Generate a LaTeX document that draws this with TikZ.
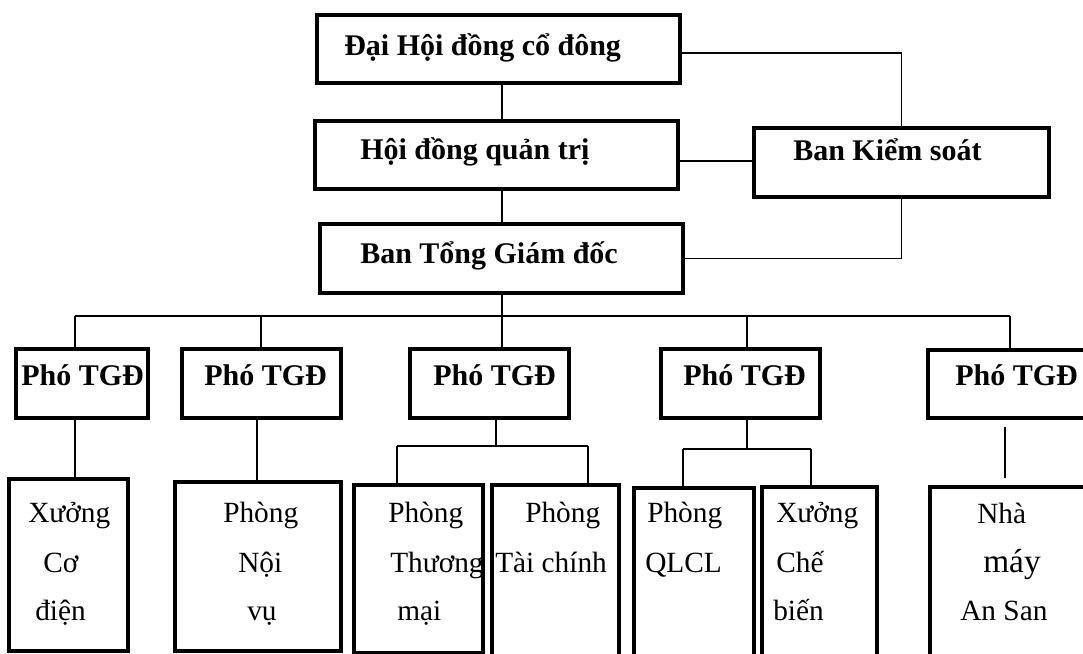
\documentclass[tikz,border=0pt]{standalone}
\usepackage{fontspec}
\setmainfont{Liberation Serif}
\usetikzlibrary{fit}
\begin{document}
\begin{tikzpicture}[x=0.75pt,y=-0.75pt,
  box/.style={draw, line width=2.4pt, inner sep=0pt},
  conn/.style={line width=1.1pt},
  btext/.style={font=\fontsize{22.5pt}{26pt}\selectfont\bfseries, anchor=base west, inner sep=0pt},
  rtext/.style={font=\fontsize{22pt}{26pt}\selectfont, anchor=base west, inner sep=0pt},
  bigtext/.style={font=\fontsize{25pt}{28pt}\selectfont, anchor=base west, inner sep=0pt}]
\useasboundingbox (0,0) rectangle (1083,654);
\clip (0,0) rectangle (1083,654);

% top boxes
\node[box, fit={(317,15) (680,83)}] (dh) {};
\node[box, fit={(315,121) (678,189)}] (hq) {};
\node[box, fit={(320,224) (683,293)}] (bg) {};
\node[box, fit={(754,128) (1049,197)}] (bks) {};

\node[btext] (dht) at (344,55) {Đại Hội đồng cổ đông};
\node[btext] (hqt) at (360,159) {Hội đồng quản trị};
\node[btext] (bgt) at (360,263) {Ban Tổng Giám đốc};
\node[btext] (bkst) at (793,160) {Ban Kiểm soát};

% Pho TGD boxes
\node[box, fit={(16,349) (148,418)}] (p1) {};
\node[box, fit={(182,349) (341,418)}] (p2) {};
\node[box, fit={(410,349) (569,418)}] (p3) {};
\node[box, fit={(661,349) (820,418)}] (p4) {};
\node[box, fit={(928,350) (1110,418)}] (p5) {};

\node[btext] (p1t) at (21,385) {Phó TGĐ};
\node[btext] (p2t) at (204,385) {Phó TGĐ};
\node[btext] (p3t) at (433,385) {Phó TGĐ};
\node[btext] (p4t) at (683,385) {Phó TGĐ};
\node[btext] (p5t) at (955,385) {Phó TGĐ};

% unit boxes
\node[box, fit={(9,479) (128,651)}] (u1) {};
\node[box, fit={(175,482) (341,651)}] (u2) {};
\node[box, fit={(354,485) (483,653)}] (u3) {};
\node[box, fit={(492,485) (619,680)}] (u4) {};
\node[box, fit={(634,488) (754,680)}] (u5) {};
\node[box, fit={(762,487) (877,680)}] (u6) {};
\node[box, fit={(930,487) (1110,680)}] (u7) {};

\node[rtext] (u1a) at (28,522) {Xưởng};
\node[rtext] (u1b) at (43,572) {Cơ};
\node[rtext] (u1c) at (35,620) {điện};

\node[rtext] (u2a) at (223,522) {Phòng};
\node[rtext] (u2b) at (238,572) {Nội};
\node[rtext] (u2c) at (247,620) {vụ};

\node[rtext] (u3a) at (388,522) {Phòng};
\node[rtext] (u3b) at (390,572) {Thương};
\node[rtext] (u3c) at (397,620) {mại};

\node[rtext] (u4a) at (525,522) {Phòng};
\node[rtext] (u4b) at (495,572) {Tài chính};

\node[rtext] (u5a) at (647,522) {Phòng};
\node[rtext] (u5b) at (645,572) {QLCL};

\node[rtext] (u6a) at (776,522) {Xưởng};
\node[rtext] (u6b) at (776,572) {Chế};
\node[rtext] (u6c) at (773,620) {biến};

\node[rtext] (u7a) at (977,523) {Nhà};
\node[bigtext] (u7b) at (983,572) {máy};
\node[rtext] (u7c) at (960,620) {An San};

% connectors: top
\coordinate (trunk) at (502,0);
\draw[conn] (trunk |- dh.south) -- (trunk |- hq.north);
\draw[conn] (trunk |- hq.south) -- (trunk |- bg.north);
\draw[conn] (trunk |- bg.south) -- (trunk |- p3.north);
\draw[conn] (dh.east |- 0,53) -| (bks.north);
\draw[conn] (hq.east |- 0,161) -- (bks.west |- 0,161);
\draw[conn] (bks.south) |- (bg.east);

% bus
\coordinate (t1) at (75,316);
\coordinate (t2) at (261,316);
\coordinate (t4) at (747,316);
\coordinate (t5) at (1010,316);
\draw[conn] (t1) -- (t5);
\draw[conn] (t1) -- (t1 |- p1.north);
\draw[conn] (t2) -- (t2 |- p2.north);
\draw[conn] (t4) -- (t4 |- p4.north);
\draw[conn] (t5) -- (t5 |- p5.north);

% Pho TGD to units
\coordinate (d1) at (75,0);
\draw[conn] (d1 |- p1.south) -- (d1 |- u1.north);
\coordinate (d2) at (257,0);
\draw[conn] (d2 |- p2.south) -- (d2 |- u2.north);

\coordinate (j3) at (496,446);
\coordinate (j3l) at (397,446);
\coordinate (j3r) at (588,446);
\draw[conn] (j3 |- p3.south) -- (j3);
\draw[conn] (j3l) -- (j3r);
\draw[conn] (j3l) -- (j3l |- u3.north);
\draw[conn] (j3r) -- (j3r |- u4.north);

\coordinate (j4) at (747,449);
\coordinate (j4l) at (683,449);
\coordinate (j4r) at (811,449);
\draw[conn] (j4 |- p4.south) -- (j4);
\draw[conn] (j4l) -- (j4r);
\draw[conn] (j4l) -- (j4l |- u5.north);
\draw[conn] (j4r) -- (j4r |- u6.north);

\coordinate (d5) at (1005,0);
\draw[conn, shorten <=7*0.75pt, shorten >=7*0.75pt] (d5 |- p5.south) -- (d5 |- u7.north);
\end{tikzpicture}
\end{document}
